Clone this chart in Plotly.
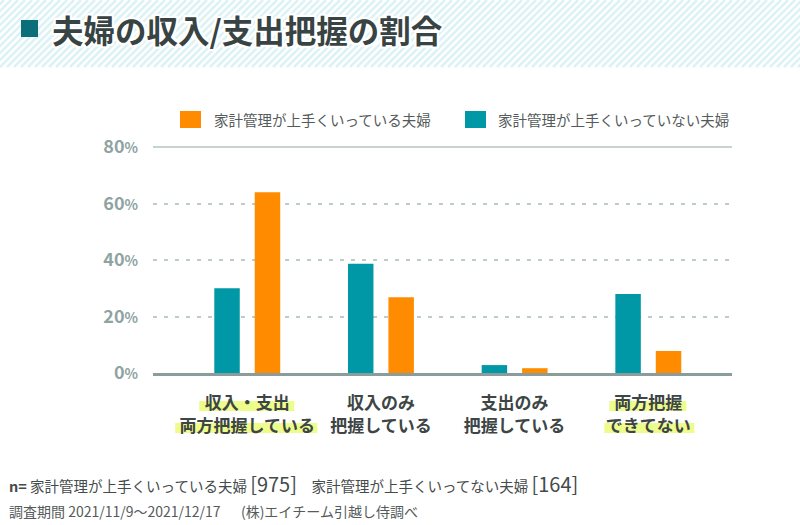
import plotly.graph_objects as go

# data
categories = ["収入・支出<br>両方把握している", "収入のみ<br>把握している",
              "支出のみ<br>把握している", "両方把握<br>できてない"]
not_good = [30.0, 38.7, 2.8, 28.0]   # 家計管理が上手くいっていない夫婦
good = [64.0, 26.8, 1.7, 7.8]        # 家計管理が上手くいっている夫婦
y_ticks = [0, 20, 40, 60, 80]
name_good = "家計管理が上手くいっている夫婦"
name_bad = "家計管理が上手くいっていない夫婦"

W, H = 800, 525
ML, MR, MT, MB = 153, 68, 147, 152
PW, PH = W - ML - MR, H - MT - MB
X_RANGE = [-0.705, 3.626]
FONT = "Noto Sans CJK JP"
ORANGE = "#ff8c00"
TEAL = "#0098a6"


# pixel -> paper (paper is the plot area in plotly)
def px(x):
    return (x - ML) / PW


def py(y):
    return (H - MB - y) / PH


def cat_px(i):
    return ML + (i - X_RANGE[0]) / (X_RANGE[1] - X_RANGE[0]) * PW


fig = go.Figure()
fig.add_trace(go.Bar(x=categories, y=not_good, name=name_bad,
                     marker=dict(color=TEAL, line=dict(width=0))))
fig.add_trace(go.Bar(x=categories, y=good, name=name_good,
                     marker=dict(color=ORANGE, line=dict(width=0))))

shapes = []
# striped header band
for i in range(-12, 118):
    x0 = i * 7
    shapes.append(dict(type="line", xref="paper", yref="paper",
                       x0=px(x0), y0=py(67), x1=px(x0 + 67), y1=py(0),
                       line=dict(color="#dcf2f5", width=2.5), layer="below"))
# title square
shapes.append(dict(type="rect", xref="paper", yref="paper",
                   x0=px(21), x1=px(38), y0=py(37), y1=py(20),
                   fillcolor="#0b6f7a", line=dict(width=0)))
# solid top gridline
shapes.append(dict(type="line", xref="paper", yref="paper", x0=0, x1=1, y0=1, y1=1,
                   line=dict(color="#b3c4c4", width=1.5), layer="above"))
# label highlights, offsets from the category centre
for cat, boxes in [(0, [(-48, 47, 401, 411), (-72, 70, 423, 433)]),
                   (3, [(-39, 38, 401, 411), (-44, 46, 423, 433)])]:
    c = cat_px(cat)
    for x0, x1, y0, y1 in boxes:
        shapes.append(dict(type="rect", xref="paper", yref="paper",
                           x0=px(c + x0), x1=px(c + x1), y0=py(y1), y1=py(y0),
                           fillcolor="#eefc8c", line=dict(width=0), layer="below"))
# legend squares
shapes.append(dict(type="rect", xref="paper", yref="paper",
                   x0=px(180), x1=px(201), y0=py(128), y1=py(111),
                   fillcolor=ORANGE, line=dict(width=0)))
shapes.append(dict(type="rect", xref="paper", yref="paper",
                   x0=px(465), x1=px(486), y0=py(128), y1=py(111),
                   fillcolor=TEAL, line=dict(width=0)))

halo = ", ".join(f"{a}px {b}px 1px #fff" for a, b in
                 [(2, 0), (-2, 0), (0, 2), (0, -2), (2, 2), (-2, -2), (2, -2), (-2, 2)])

annotations = [
    dict(text="夫婦の収入/支出把握の割合", xref="paper", yref="paper",
         x=px(50), y=py(29), xanchor="left", yanchor="middle", showarrow=False,
         font=dict(family=FONT, size=31.5, color="#384343", weight="bold", shadow=halo)),
    dict(text=name_good, xref="paper", yref="paper",
         x=px(212), y=py(120), xanchor="left", yanchor="middle", showarrow=False,
         font=dict(family=FONT, size=14.5, color="#555b5b")),
    dict(text=name_bad, xref="paper", yref="paper",
         x=px(496), y=py(120), xanchor="left", yanchor="middle", showarrow=False,
         font=dict(family=FONT, size=14.5, color="#555b5b")),
    dict(text="<b>n=</b> 家計管理が上手くいっている夫婦 <span style='font-size:20px'>[975]</span>"
              "　家計管理が上手くいってない夫婦 <span style='font-size:20px'>[164]</span>",
         xref="paper", yref="paper", x=px(7), y=py(483), xanchor="left", yanchor="middle",
         showarrow=False, font=dict(family=FONT, size=14.5, color="#444b4b")),
    dict(text="調査期間 2021/11/9〜2021/12/17 　 (株)エイチーム引越し侍調べ",
         xref="paper", yref="paper", x=px(7), y=py(511), xanchor="left", yanchor="middle",
         showarrow=False, font=dict(family=FONT, size=14, color="#555b5b")),
]

fig.update_layout(
    width=W, height=H,
    paper_bgcolor="white", plot_bgcolor="rgba(0,0,0,0)",
    margin=dict(l=ML, r=MR, t=MT, b=MB),
    showlegend=False,
    barmode="group", bargap=0.395, bargroupgap=0.37,
    shapes=shapes, annotations=annotations,
    font=dict(family=FONT),
)
fig.update_xaxes(
    range=X_RANGE, showgrid=False, zeroline=False,
    showline=True, linecolor="#8a9c9c", linewidth=3,
    tickfont=dict(family=FONT, size=17, color="#3d4545", weight="bold"),
    ticklabelstandoff=13,
)
fig.update_yaxes(
    range=[0, 80], tickvals=y_ticks,
    ticktext=[f"{v}<span style='font-size:14px'>%</span>" for v in y_ticks],
    showgrid=True, gridcolor="#bccbcb", gridwidth=1.5, griddash="4px,7px",
    zeroline=False, showline=False,
    tickfont=dict(family=FONT, size=18, color="#8fa3a3", weight="bold"),
    ticklabelstandoff=14,
)

# page has a default 8px body margin; drop it so the figure fills the window
fig.write_html("out.html", config={"displayModeBar": False},
               post_script="document.body.style.margin='0';")
